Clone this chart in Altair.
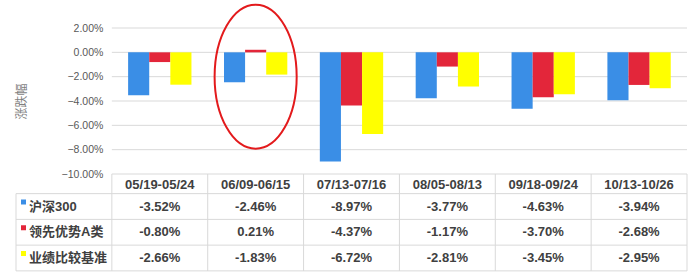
import altair as alt
import pandas as pd

periods = ["05/19-05/24", "06/09-06/15", "07/13-07/16", "08/05-08/13", "09/18-09/24", "10/13-10/26"]
series = ["沪深300", "领先优势A类", "业绩比较基准"]
hs300 = [-3.52, -2.46, -8.97, -3.77, -4.63, -3.94]
lxys_a = [-0.80, 0.21, -4.37, -1.17, -3.70, -2.68]
benchmark = [-2.66, -1.83, -6.72, -2.81, -3.45, -2.95]
colors = ["#3a8ee6", "#e3263a", "#ffff00"]
y_ticks = [2, 0, -2, -4, -6, -8, -10]
highlight_period = "06/09-06/15"
highlight_center = -2.0

W, H = 671, 271
LABEL_COL = "_label"
xdomain = [LABEL_COL] + periods
band = W / len(xdomain)
TABLE_TOP = 174
TABLE_BOTTOM = 271

rows = []
for si, (name, vals) in enumerate(zip(series, [hs300, lxys_a, benchmark])):
    for p, v in zip(periods, vals):
        rows.append({"period": p, "series": name, "value": v, "row": si + 1, "label": f"{v:.2f}%"})
df = pd.DataFrame(rows)

FONT = "Liberation Sans, Noto Sans CJK SC, sans-serif"
GRID = "#d9d9d9"
TXT = "#404040"

xscale = alt.Scale(type="band", domain=xdomain, paddingInner=0, paddingOuter=0)
yscale = alt.Scale(domain=[-10, 2], range=[174, 28], nice=False)
tscale = alt.Scale(domain=[1, 3], range=[206.5, 258], nice=False, zero=False)
cscale = alt.Scale(domain=series, range=colors)

yaxis = alt.Axis(values=y_ticks, labelExpr="format(datum.value, '.2f') + '%'",
                 domain=False, ticks=False, grid=False, offset=-band, labelPadding=9,
                 labelFontSize=10.5, labelColor="#595959", labelFont="Liberation Sans",
                 title="涨跌幅", titleFont="Noto Sans CJK SC", titleFontSize=12,
                 titleFontWeight="normal", titleColor="#7f7f7f", titleAngle=-90,
                 titleX=5 - band, titleY=101, titleAlign="center", titleBaseline="middle")

grid = alt.Chart(pd.DataFrame({"v": y_ticks})).mark_rule(color=GRID, strokeWidth=1).encode(
    y=alt.Y("v:Q", scale=yscale, axis=yaxis), x=alt.value(band), x2=alt.value(W))

bars = alt.Chart(df).mark_bar().encode(
    x=alt.X("period:N", scale=xscale, axis=None),
    xOffset=alt.XOffset("series:N", scale=alt.Scale(domain=series, paddingInner=0, paddingOuter=0.77)),
    y=alt.Y("value:Q", scale=yscale, axis=yaxis),
    color=alt.Color("series:N", scale=cscale, legend=None))

ellipse_path = "M -0.57 0 A 0.57 1 0 1 0 0.57 0 A 0.57 1 0 1 0 -0.57 0 Z"
ellipse = alt.Chart(pd.DataFrame({"period": [highlight_period], "v": [highlight_center]})).mark_point(
    shape=ellipse_path, size=20736, filled=False, color="#e31a1c", strokeWidth=2, opacity=1).encode(
    x=alt.X("period:N", scale=xscale, axis=None),
    y=alt.Y("v:Q", scale=yscale, axis=yaxis))

top = alt.layer(grid, bars, ellipse)

# table
hlines = alt.Chart(pd.DataFrame({"b": [i + 0.5 for i in range(len(series) + 1)]})).mark_rule(
    color=GRID, strokeWidth=1).encode(
    y=alt.Y("b:Q", scale=tscale, axis=None), x=alt.value(0), x2=alt.value(W))

vlines = alt.Chart(pd.DataFrame({"period": periods})).mark_rule(color=GRID, strokeWidth=1).encode(
    x=alt.X("period:N", scale=xscale, axis=None, bandPosition=0),
    y=alt.value(TABLE_TOP), y2=alt.value(TABLE_BOTTOM))

edge_left = alt.Chart(pd.DataFrame({"a": [0]})).mark_rule(color=GRID, strokeWidth=1).encode(
    x=alt.value(0), y=alt.Y(datum=0.5, scale=tscale, axis=None), y2=alt.datum(3.5))
edge_right = alt.Chart(pd.DataFrame({"a": [0]})).mark_rule(color=GRID, strokeWidth=1).encode(
    x=alt.value(W), y=alt.value(TABLE_TOP), y2=alt.value(TABLE_BOTTOM))

header = alt.Chart(pd.DataFrame({"period": periods})).mark_text(
    font=FONT, fontSize=13, fontWeight="bold", color=TXT, baseline="middle").encode(
    x=alt.X("period:N", scale=xscale, axis=None), y=alt.value(184.5), text="period:N")

values = alt.Chart(df).mark_text(
    font=FONT, fontSize=13, fontWeight="bold", color=TXT, baseline="middle").encode(
    x=alt.X("period:N", scale=xscale, axis=None),
    y=alt.Y("row:Q", scale=tscale, axis=None), text="label:N")

lab_df = pd.DataFrame({"cat": [LABEL_COL] * len(series), "series": series,
                       "row": list(range(1, len(series) + 1))})
labels = alt.Chart(lab_df).mark_text(
    font=FONT, fontSize=13, fontWeight="bold", color=TXT, baseline="middle", align="left", dx=13).encode(
    x=alt.X("cat:N", scale=xscale, axis=None, bandPosition=0),
    y=alt.Y("row:Q", scale=tscale, axis=None), text="series:N")

squares = alt.Chart(lab_df).mark_point(shape="square", filled=True, size=25, opacity=1,
                                       xOffset=7.5, yOffset=-4.5).encode(
    x=alt.X("cat:N", scale=xscale, axis=None, bandPosition=0),
    y=alt.Y("row:Q", scale=tscale, axis=None),
    color=alt.Color("series:N", scale=cscale, legend=None))

table = alt.layer(hlines, vlines, edge_left, edge_right, header, values, labels, squares)

chart = alt.layer(top, table).resolve_scale(y="independent").properties(
    width=W, height=H,
    padding={"left": 16, "top": 0, "right": 13, "bottom": 7},
    autosize=alt.AutoSizeParams(type="none"),
    background="white",
).configure_view(stroke=None)

chart.save("out.html", embed_options={"renderer": "svg", "actions": False})
